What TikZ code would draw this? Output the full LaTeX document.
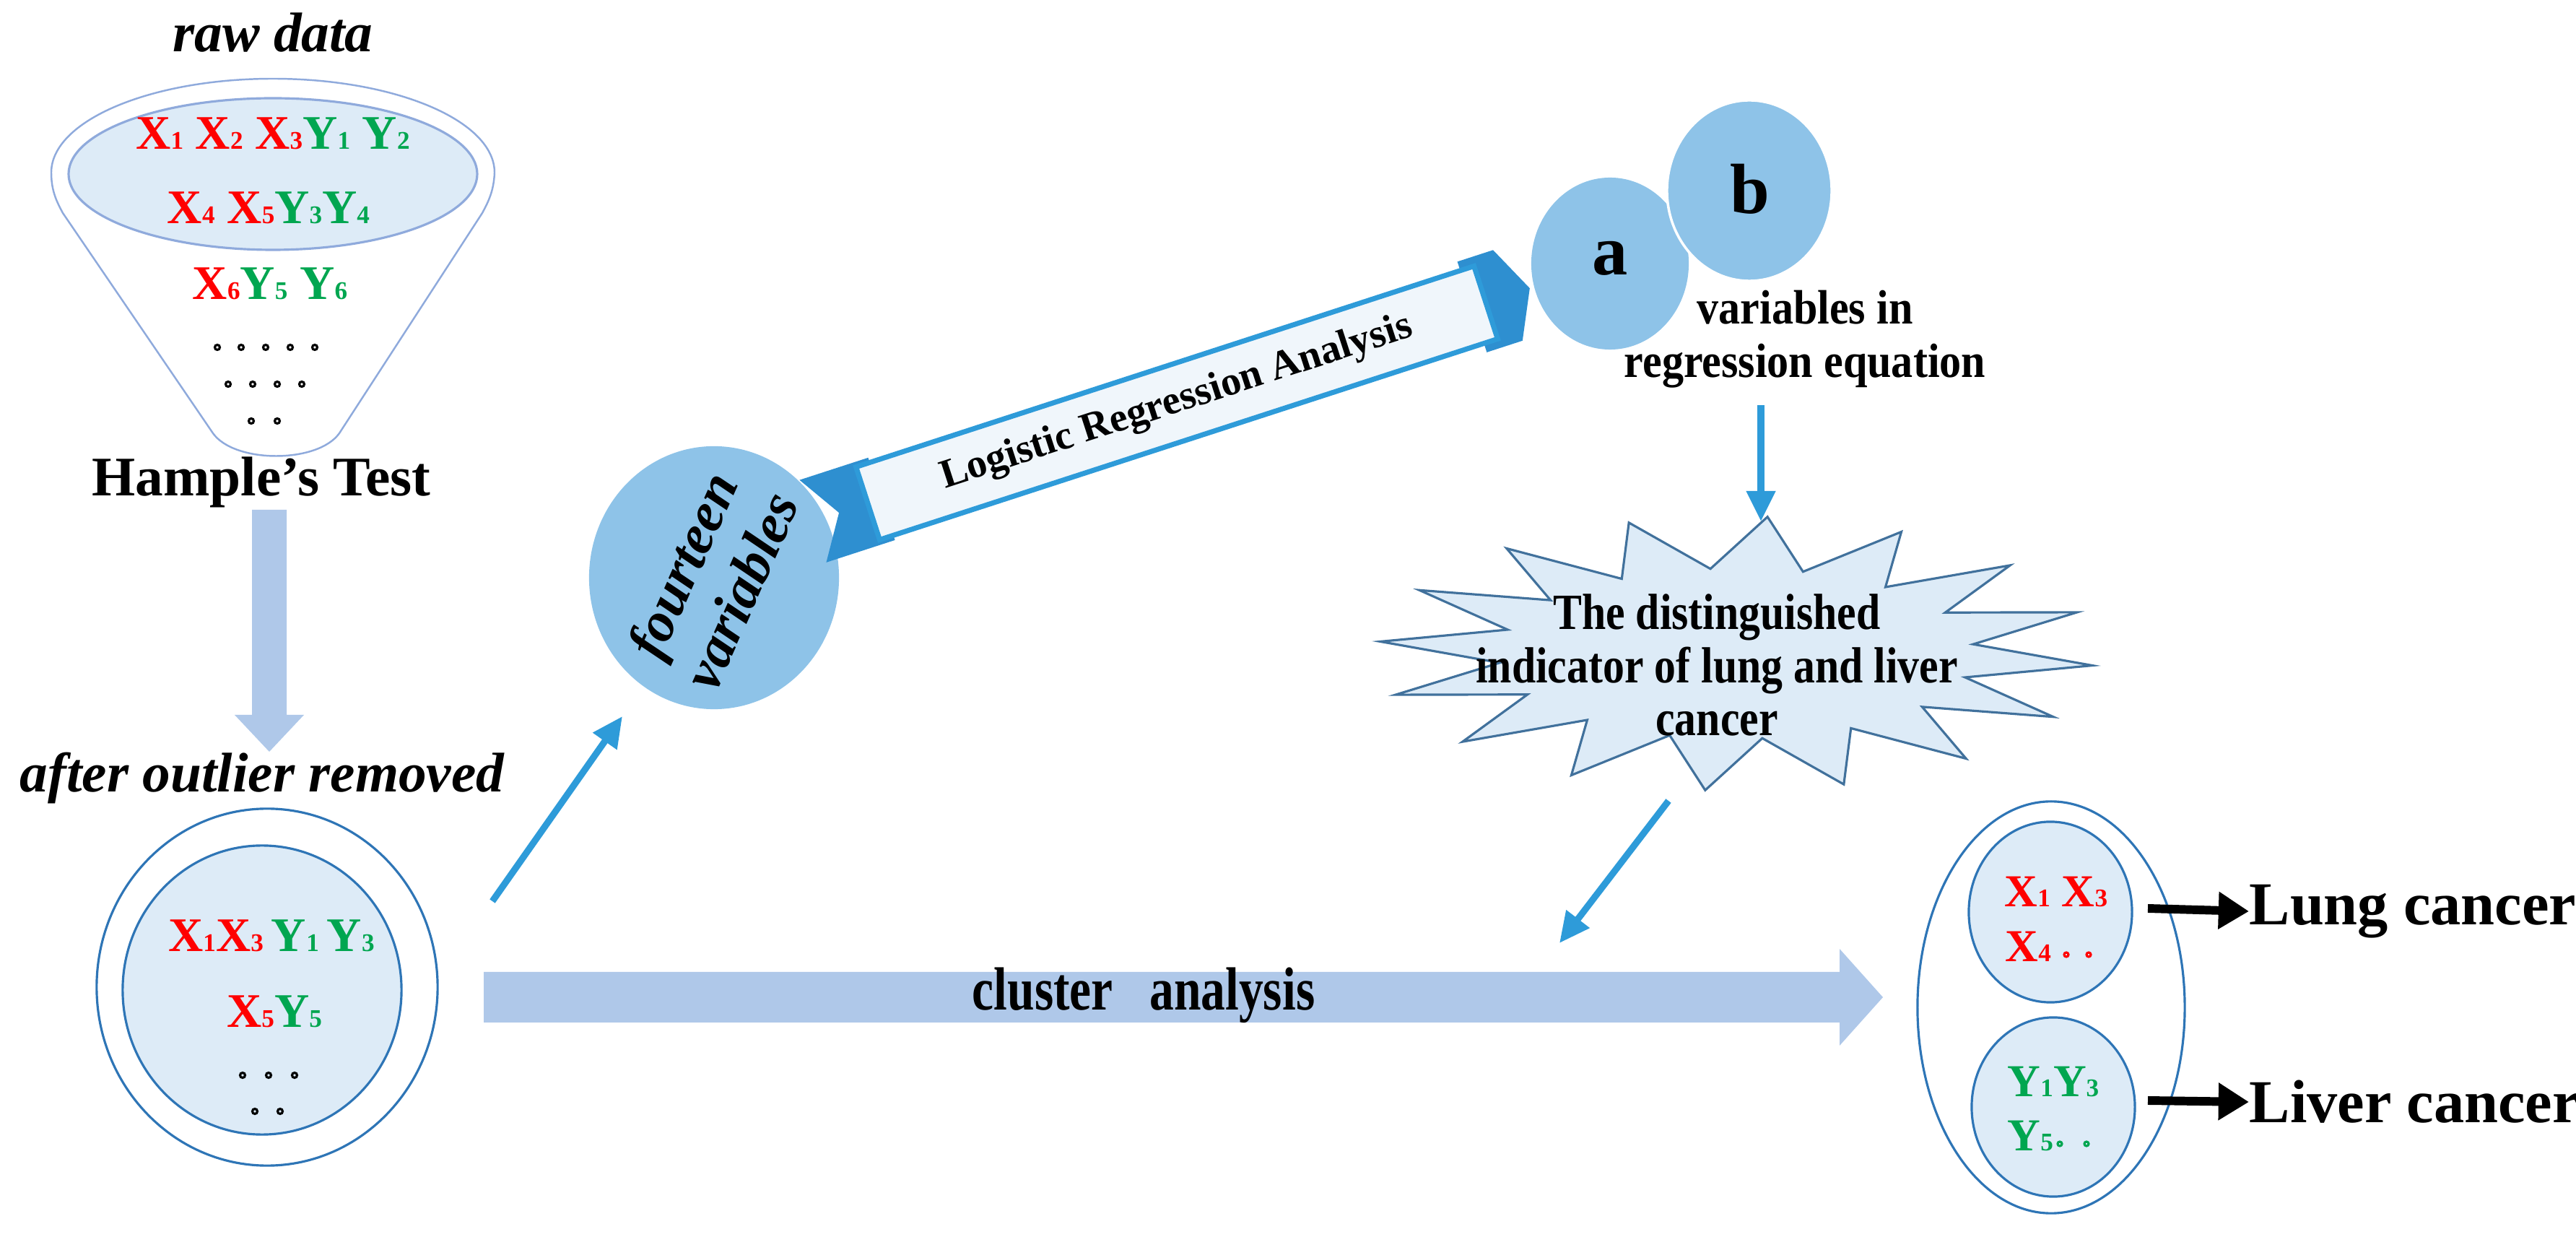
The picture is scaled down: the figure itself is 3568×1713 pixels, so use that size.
\documentclass[tikz,border=0pt]{standalone}
\usepackage{fontspec}
\setmainfont{Liberation Serif}
\usetikzlibrary{shapes.geometric,arrows.meta}
\definecolor{lightarr}{HTML}{AFC8E9}
\definecolor{circfill}{HTML}{8EC3E8}
\definecolor{midblue}{HTML}{2E9BD9}
\definecolor{ellstroke}{HTML}{2E75B6}
\definecolor{innerfill}{HTML}{DDEBF7}
\definecolor{starline}{HTML}{41719C}
\definecolor{funline}{HTML}{8FAADC}
\definecolor{xred}{HTML}{FF0000}
\definecolor{ygreen}{HTML}{00A650}
\definecolor{bandblue}{HTML}{2E8FD0}
\newcommand\vsb[2]{#1{\fontsize{10}{10}\selectfont #2}}
\newcommand\fsz[1]{\fontsize{#1}{#1}\selectfont}
\tikzset{
  txt/.style={inner sep=0pt, font=\bfseries},
  rows/.style={inner sep=0pt, font=\bfseries\fsz{19}},
  blarrow/.style={draw=midblue, line width=2.6pt, -{Triangle[length=12pt,width=11pt]}},
  bkarrow/.style={draw=black, line width=3.4pt, -{Triangle[length=12pt,width=14pt]}},
  ellout/.style={draw=ellstroke, line width=0.9pt, fill=white},
  ellin/.style={draw=ellstroke, line width=0.9pt, fill=innerfill},
  dot/.style={draw=black, line width=0.9pt},
}
\begin{document}
\begin{tikzpicture}[x=0.01cm,y=-0.01cm]
\useasboundingbox (0,0) rectangle (3568,1713);
% ---------- funnel ----------
\node[txt, font=\bfseries\itshape\fsz{22}] (raw) at (378,45) {raw data};
\draw[funline, line width=0.7pt, fill=white]
  (71,239) arc[start angle=180, end angle=360, x radius=307, y radius=130]
  .. controls (684,265) and (676,280) .. (668,295)
  -- (470,600) .. controls (440,642) and (325,642) .. (295,600)
  -- (87,295) .. controls (79,280) and (71,265) .. (71,239) -- cycle;
\draw[funline, line width=0.9pt, fill=innerfill] (378,241) ellipse[x radius=283, y radius=105];
\node[rows] (r1) at (378,185) {\color{xred}\vsb{X}{1} \vsb{X}{2} \vsb{X}{3}\color{ygreen} \vsb{Y}{1} \vsb{Y}{2}};
\node[rows] (r2) at (372,288) {\color{xred}\vsb{X}{4} \vsb{X}{5}\color{ygreen} \vsb{Y}{3}\vsb{Y}{4}};
\node[rows] (r3) at (374,393) {\color{xred}\vsb{X}{6}\color{ygreen} \vsb{Y}{5} \vsb{Y}{6}};
\foreach \x in {301,334,368,402,436} \draw[dot] (\x,481) circle[radius=3.5];
\foreach \x in {316,350,384,418} \draw[dot] (\x,532) circle[radius=3.5];
\foreach \x in {348,384} \draw[dot] (\x,583) circle[radius=3.5];
\node[txt, font=\bfseries\fsz{22}] (ham) at (362,668) {Hample’s Test};
% big down arrow
\fill[lightarr] (349,706) -- (397,706) -- (397,990) -- (421,990) -- (373,1041) -- (325,990) -- (349,990) -- cycle;
\node[txt, font=\bfseries\itshape\fsz{22}] (after) at (363,1078) {after outlier removed};
% lower ellipses
\node[ellout, ellipse, minimum width=4.72cm, minimum height=4.94cm] (lowout) at (370,1367) {};
\node[ellin, ellipse, minimum width=3.86cm, minimum height=4.0cm] (lowin) at (363,1371) {};
\node[rows] (l1) at (376,1296) {\color{xred}\vsb{X}{1}\vsb{X}{3}\color{ygreen}\,\vsb{Y}{1}\,\vsb{Y}{3}};
\node[rows] (l2) at (380,1401) {\color{xred}\vsb{X}{5}\color{ygreen} \vsb{Y}{5}};
\foreach \x in {336,372,408} \draw[dot] (\x,1489) circle[radius=3.5];
\foreach \x in {353,388} \draw[dot] (\x,1539) circle[radius=3.5];
% arrow to fourteen
\coordinate (s1) at (682,1248);
\coordinate (e1) at (862,992);
\draw[blarrow] (s1) -- (e1);
% fourteen circle
\node[ellipse, fill=circfill, minimum width=3.46cm, minimum height=3.64cm] (four) at (989,800) {};
\node[txt, font=\bfseries\itshape\fsz{22}, rotate=66, align=center] (fourt) at (985,800) {fourteen\\[3pt]variables};
% banner
\begin{scope}[shift={(1630,558)}, rotate=18]
  \fill[bandblue] (-430,-60) -- (-530,-60) -- (-492,0) -- (-530,60) -- (-430,60) -- cycle;
  \fill[bandblue] (430,-66) -- (482,-66) -- (514,0) -- (482,66) -- (430,66) -- cycle;
  \draw[midblue, line width=2pt, fill=innerfill!45] (-450,-53) rectangle (450,53);
  \node[txt, font=\bfseries\fsz{16}, rotate=18] (lra) at (0,0) {Logistic Regression Analysis};
\end{scope}
% a and b circles
\node[ellipse, fill=circfill, minimum width=2.18cm, minimum height=2.38cm] (ca) at (2230,365) {};
\node[ellipse, fill=circfill, draw=white, line width=1pt, minimum width=2.28cm, minimum height=2.5cm] (cb) at (2423,264) {};
\node[txt, font=\bfseries\fsz{28}] (ta) at (2230,358) {a};
\node[txt, font=\bfseries\fsz{28}] (tb) at (2424,262) {b};
\node[txt, font=\bfseries\fsz{19}, align=center] (vin) at (2500,470) {\scalebox{0.9}[1]{variables in}\\[2pt]\scalebox{0.9}[1]{regression equation}};
\coordinate (s2) at (2439,561);
\coordinate (e2) at (2439,722);
\draw[blarrow] (s2) -- (e2);
% star
\draw[starline, line width=0.9pt, fill=innerfill]
  plot[samples at={0,...,31}] ({2405+(mod(\x,2)==0?495:330)*cos(\x*11.25+5)}, {905+(mod(\x,2)==0?190:118)*sin(\x*11.25+5)}) -- cycle;
\node[txt, font=\bfseries\fsz{20}, align=center] (startxt) at (2378,921) {\scalebox{0.85}[1]{The distinguished}\\[1pt]\scalebox{0.85}[1]{indicator of lung and liver}\\[1pt]\scalebox{0.85}[1]{cancer}};
\coordinate (s3) at (2311,1109);
\coordinate (e3) at (2160,1306);
\draw[blarrow] (s3) -- (e3);
% cluster arrow
\fill[lightarr] (670,1346) -- (2548,1346) -- (2548,1314) -- (2608,1381) -- (2548,1448) -- (2548,1416) -- (670,1416) -- cycle;
\node[txt, font=\bfseries\fsz{24}] (clu) at (1584,1378) {\scalebox{0.8}[1]{cluster\ \ \ analysis}};
% right ellipses
\node[ellout, ellipse, minimum width=3.7cm, minimum height=5.7cm] (rout) at (2841,1395) {};
\node[ellin, ellipse, minimum width=2.26cm, minimum height=2.5cm] (rup) at (2840,1263) {};
\node[ellin, ellipse, minimum width=2.26cm, minimum height=2.48cm] (rlo) at (2844,1533) {};
\node[rows, font=\bfseries\fsz{18}, anchor=west] (u1) at (2776,1235) {\color{xred}\vsb{X}{1} \vsb{X}{3}};
\node[rows, font=\bfseries\fsz{18}, anchor=west] (u2) at (2777,1311) {\color{xred}\vsb{X}{4}};
\foreach \x in {2862,2893} \draw[xred, line width=0.9pt] (\x,1322) circle[radius=3];
\node[rows, font=\bfseries\fsz{18}, anchor=west] (d1) at (2780,1498) {\color{ygreen}\vsb{Y}{1}\vsb{Y}{3}};
\node[rows, font=\bfseries\fsz{18}, anchor=west] (d2) at (2780,1573) {\color{ygreen}\vsb{Y}{5}};
\foreach \x in {2853,2890} \draw[ygreen, line width=0.9pt] (\x,1584) circle[radius=3];
\node[txt, font=\bfseries\fsz{24}, anchor=west] (lung) at (3115,1262) {Lung cancer};
\node[txt, font=\bfseries\fsz{24}, anchor=west] (liver) at (3115,1526) {Liver cancer};
\coordinate (s4) at (2975,1258);
\coordinate (s5) at (2975,1524);
\draw[bkarrow] (s4) -- (lung.west);
\draw[bkarrow] (s5) -- (liver.west);
\end{tikzpicture}
\end{document}
